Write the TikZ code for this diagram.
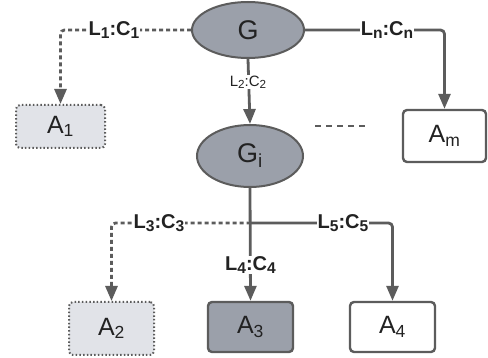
\documentclass[tikz,border=0pt]{standalone}
\usepackage{fontspec}
\setmainfont{Liberation Sans}
\usetikzlibrary{arrows.meta,shapes.geometric}
\definecolor{linegray}{HTML}{5C5C5C}
\definecolor{nodegray}{HTML}{9BA0AA}
\definecolor{palegray}{HTML}{E1E3E8}
\definecolor{ink}{HTML}{222222}
% subscript kept fairly large, as in the edge labels
\newcommand\lsub[1]{\raisebox{-0.28ex}{\fontsize{0.78\dimexpr\fontdimen6\font\relax}{0pt}\selectfont#1}}
\tikzset{
  conn/.style={draw=linegray, line width=2.8pt, rounded corners=4pt,
    -{Triangle[width=12pt,length=15pt]}},
  dotconn/.style={conn, dash pattern=on 4pt off 3pt},
  graphnode/.style={ellipse, draw=linegray, line width=2pt, fill=nodegray,
    inner sep=0pt, text=ink, font=\fontsize{27}{30}\selectfont},
  abox/.style={rectangle, rounded corners=4pt, draw=linegray, line width=2.4pt,
    inner sep=0pt, text=ink, font=\fontsize{25}{28}\selectfont},
  plainbox/.style={abox, fill=white},
  darkbox/.style={abox, fill=nodegray},
  dotbox/.style={abox, fill=palegray, line width=2pt, dash pattern=on 1.5pt off 2.2pt},
  lbl/.style={fill=white, inner sep=1pt, text=ink, font=\bfseries\fontsize{20}{22}\selectfont},
  smalllbl/.style={fill=white, inner sep=1pt, text=ink, font=\fontsize{15}{17}\selectfont},
}
\begin{document}
\begin{tikzpicture}[x=1pt,y=-1pt]
\useasboundingbox[fill=white] (0,0) rectangle (488,358);

% graph nodes
\node[graphnode, minimum width=112pt, minimum height=56pt] (G) at (248,30) {G};
\node[graphnode, minimum width=106pt, minimum height=62pt] (Gi) at (250,156) {G\textsubscript{i}};

% attribute boxes
\node[dotbox, minimum width=89pt, minimum height=43pt] (A1) at (60.5,126.5) {A\textsubscript{1}};
\node[plainbox, minimum width=83pt, minimum height=52pt] (Am) at (444.5,136) {A\textsubscript{m}};
\node[dotbox, minimum width=85pt, minimum height=53pt] (A2) at (111.5,328.5) {A\textsubscript{2}};
\node[darkbox, minimum width=85pt, minimum height=50pt] (A3) at (250.5,327) {A\textsubscript{3}};
\node[plainbox, minimum width=85pt, minimum height=50pt] (A4) at (392.5,327) {A\textsubscript{4}};

% connectors from G
\draw[dotconn] (G.west) -| (A1.north);
\draw[conn] (G.east) -| (Am.north);
\draw[conn] (G.south) -- (Gi.north);

% connectors from G_i
\coordinate (j) at (250.5,223);
\draw[conn] (Gi.south) -- (A3.north);
\draw[dotconn] (j) -| (A2.north);
\draw[conn] (j) -| (A4.north);

% ellipsis between siblings
\coordinate (d1) at (315,126);
\coordinate (d2) at (368,126);
\draw[linegray, line width=1.4pt, dash pattern=on 6pt off 5pt] (d1) -- (d2);

% edge labels
\node[lbl] (l1) at (114,30) {L\lsub{1}:C\lsub{1}};
\node[lbl] (ln) at (387,30) {L\lsub{n}:C\lsub{n}};
\node[smalllbl] (l2) at (248,82) {L\lsub{2}:C\lsub{2}};
\node[lbl] (l3) at (159,223) {L\lsub{3}:C\lsub{3}};
\node[lbl] (l4) at (250.5,265) {L\lsub{4}:C\lsub{4}};
\node[lbl] (l5) at (343,223) {L\lsub{5}:C\lsub{5}};
\end{tikzpicture}
\end{document}
